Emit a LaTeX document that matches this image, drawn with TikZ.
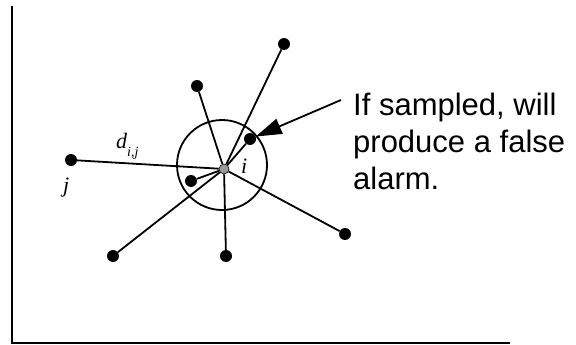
\documentclass[tikz,border=0pt]{standalone}
\usepackage{fontspec}
\setmainfont{Liberation Sans}
\newfontfamily\serifit{Liberation Serif}[ItalicFont={* Italic}]
\usetikzlibrary{arrows.meta}
\tikzset{
  dot/.style={circle,fill=black,inner sep=0pt,minimum size=12pt},
  hub/.style={circle,fill=black!40,draw=black,line width=0.6pt,inner sep=0pt,minimum size=10pt},
  ring/.style={circle,draw=black,line width=1.8pt,inner sep=0pt,minimum size=90pt},
  edge/.style={line width=1.8pt},
  axis/.style={line width=2pt},
  callout/.style={font=\fontsize{31}{37}\selectfont,anchor=base west,inner sep=0pt},
  mlabel/.style={font=\serifit\itshape\fontsize{22}{22}\selectfont,anchor=base west,inner sep=0pt}
}
\begin{document}
\begin{tikzpicture}[x=1pt,y=-1pt]
\useasboundingbox (0,0) rectangle (576,345);
% axes
\coordinate (ytop) at (12,6);
\coordinate (org) at (12,343);
\coordinate (xend) at (510,343);
\draw[axis] (ytop) -- (org) -- (xend);
% ring
\node[ring] (circ) at (222,165) {};
% nodes
\node[hub] (c) at (224,169) {};
\node[dot] (j) at (71,160) {};
\node[dot] (tr) at (284,44) {};
\node[dot] (up) at (197,86) {};
\node[dot] (in1) at (250,139) {};
\node[dot] (in2) at (191,181) {};
\node[dot] (bl) at (113,256) {};
\node[dot] (bm) at (226,256) {};
\node[dot] (rt) at (345,234) {};
% edges
\foreach \p in {j,tr,up,in1,in2,bl,bm,rt} \draw[edge] (c) -- (\p);
% labels
\node[mlabel] (dij) at (116,148) {d\raisebox{-8pt}{\fontsize{14}{14}\selectfont i,j}};
\node[mlabel] (jl) at (63,192) {j};
\node[mlabel] (il) at (241,173) {i};
% callout
\coordinate (tail) at (341,100);
\draw[edge,-{Triangle[length=26pt,width=16pt]}] (tail) -- (in1);
\node[callout] (t1) at (353,115) {If sampled, will};
\node[callout] (t2) at (353,152) {produce a false};
\node[callout] (t3) at (353,189) {alarm.};
\end{tikzpicture}
\end{document}
